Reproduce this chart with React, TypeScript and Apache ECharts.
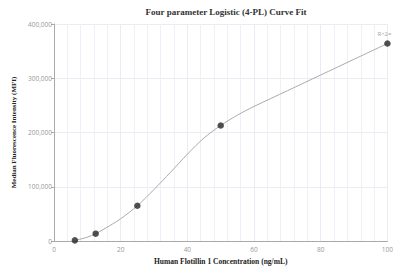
import React, { useEffect, useRef } from "react";
import * as echarts from "echarts";

const title = "Four parameter Logistic (4-PL) Curve Fit";
const xAxisName = "Human Flotillin 1 Concentration (ng/mL)";
const yAxisName = "Median Fluorescence Intensity (MFI)";

// measured points
const pointX = [6.25, 12.5, 25, 50, 100];
const pointY = [1200, 13500, 65000, 213000, 364000];

// fitted curve
const curveX = [6.25, 10, 12.5, 15, 20, 25, 30, 35, 40, 45, 50, 55, 60, 70, 80, 90, 100];
const curveY = [1000, 7000, 13500, 22000, 41000, 65000, 95000, 127000, 160000, 190000, 213000, 232000, 248000, 277000, 306000, 335000, 364000];

const r2Label = "R^2=";

export default function App() {
  const ref = useRef<HTMLDivElement>(null);
  useEffect(() => {
    document.body.style.margin = "0";
    document.body.style.overflow = "hidden";
    if (!ref.current) return;
    const chart = echarts.init(ref.current, null, { renderer: "svg" });
    const labelFont = "'Open Sans', 'Noto Sans', sans-serif";
    chart.setOption({
      animation: false,
      title: {
        text: title,
        left: 221,
        textAlign: "center",
        top: 2,
        textStyle: { fontFamily: "'Liberation Serif', serif", fontSize: 9, fontWeight: "bold", color: "#333" },
      },
      grid: { left: 54, right: 8, top: 24, bottom: 30 },
      xAxis: {
        type: "value",
        min: 0,
        max: 100,
        interval: 20,
        name: xAxisName,
        nameLocation: "middle",
        nameGap: 15,
        nameTextStyle: { fontFamily: "'Liberation Serif', serif", fontSize: 7.5, fontWeight: "bold", color: "#222" },
        axisLine: { show: true, lineStyle: { color: "#aaa", width: 1 } },
        axisTick: { show: false },
        axisLabel: { fontFamily: labelFont, fontSize: 6.5, color: "#999", margin: 5 },
        splitLine: { show: true, lineStyle: { color: "#e9ecf3", width: 1 } },
        minorTick: { show: false, splitNumber: 5 },
        minorSplitLine: { show: true, lineStyle: { color: "#eef0f6", width: 1 } },
      },
      yAxis: {
        type: "value",
        min: 0,
        max: 400000,
        interval: 100000,
        name: yAxisName,
        nameLocation: "middle",
        nameGap: 35,
        nameTextStyle: { fontFamily: "'Liberation Serif', serif", fontSize: 7, fontWeight: "bold", color: "#222" },
        axisLine: { show: true, lineStyle: { color: "#aaa", width: 1 } },
        axisTick: { show: true, length: 3, lineStyle: { color: "#aaa" } },
        axisLabel: {
          fontFamily: labelFont,
          fontSize: 6.5,
          color: "#999",
          margin: 2,
          formatter: (v: number) => v.toLocaleString("en-US"),
        },
        splitLine: { show: true, lineStyle: { color: "#e9ecf3", width: 1 } },
      },
      series: [
        {
          type: "line",
          data: curveX.map((x, i) => [x, curveY[i]]),
          smooth: 0.3,
          showSymbol: false,
          symbol: "none",
          lineStyle: { color: "#aaa", width: 1 },
          z: 2,
        },
        {
          type: "scatter",
          data: pointX.map((x, i) => ({
            value: [x, pointY[i]],
            label:
              i === pointX.length - 1
                ? {
                    show: true,
                    formatter: r2Label,
                    position: "top",
                    offset: [-3, 2],
                    fontFamily: labelFont,
                    fontSize: 6,
                    color: "#888",
                  }
                : { show: false },
          })),
          symbolSize: 6.5,
          itemStyle: { color: "#262626" },
          z: 3,
        },
      ],
    });
    return () => chart.dispose();
  }, []);
  return <div ref={ref} style={{ width: 396, height: 271 }} />;
}
